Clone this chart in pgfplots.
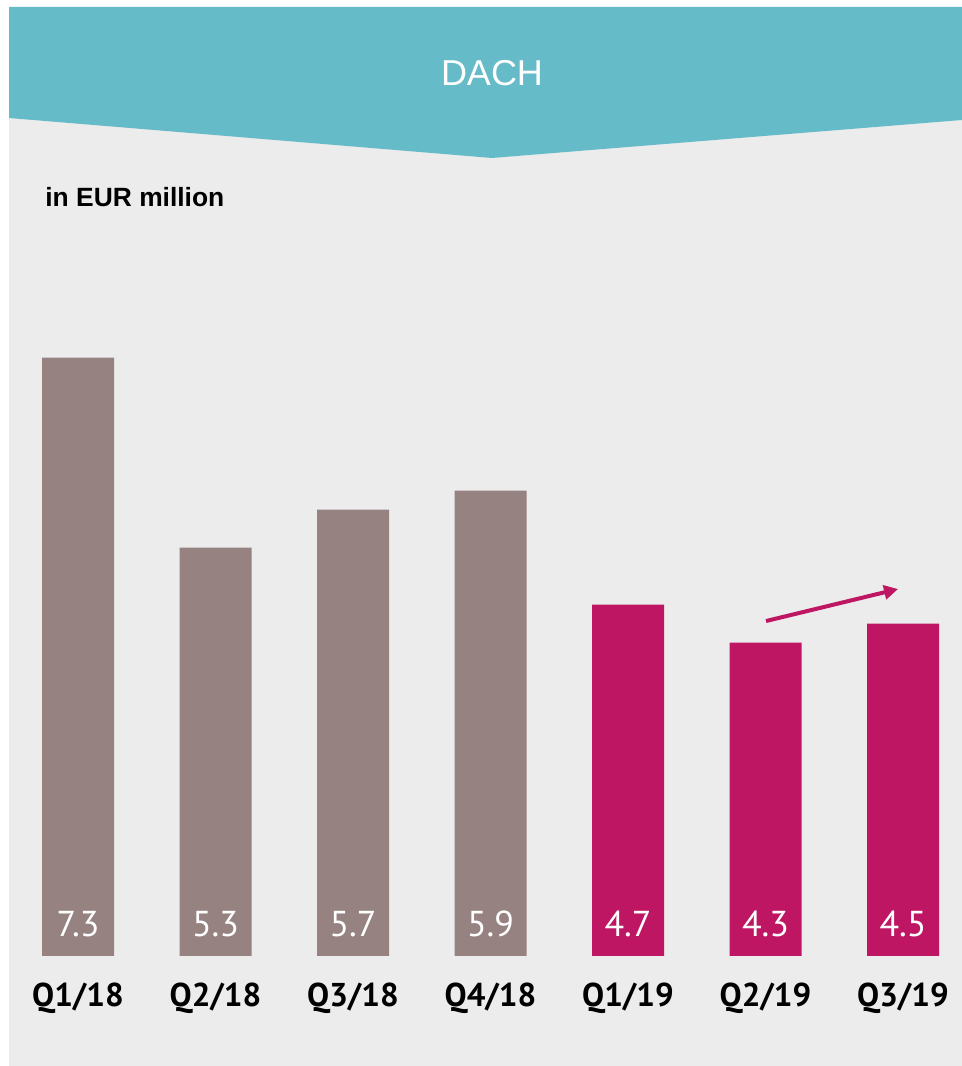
\documentclass[border=0pt]{standalone}
\usepackage{pgfplots}
\pgfplotsset{compat=1.18}
\usepackage{pgfplotstable}
\usepackage{fontspec}
\setmainfont{Liberation Sans}
\newfontfamily\ptsans{PT Sans}
\usetikzlibrary{arrows.meta}

\definecolor{panelgray}{HTML}{ECECEC}
\definecolor{headteal}{HTML}{66BBC9}
\definecolor{bargray}{HTML}{968281}
\definecolor{barpink}{HTML}{BE1662}

% quarterly values, in EUR million
\pgfplotstableread{
x v
0 7.3
1 5.3
2 5.7
3 5.9
}\prevyear
\pgfplotstableread{
x v
4 4.7
5 4.3
6 4.5
}\curyear

\begin{document}
\begin{tikzpicture}[x=0.5pt,y=0.5pt]
\useasboundingbox (0,0) rectangle (962,1066);
\fill[white] (0,0) rectangle (962,1066);
\fill[panelgray] (9,0) rectangle (962,1059);
% header band with the downward point
\fill[headteal] (9,1059) -- (962,1059) -- (962,946) -- (492,908) -- (9,948) -- cycle;
\node[text=white, font=\fontsize{18}{20}\selectfont] at (492,993) {DACH};
\node[anchor=base west, inner sep=0, font=\fontsize{13.2}{15}\selectfont\bfseries] at (45,859) {in EUR million};

\begin{axis}[
  at={(11.5pt,55pt)}, anchor=south west,
  scale only axis, width=467.5pt, height=332.5pt,
  xmin=-0.4, xmax=6.4, ymin=1, ymax=8,
  axis line style={draw=none}, major tick length=0pt,
  ytick=\empty,
  xtick={0,...,6},
  xticklabels={Q1/18,Q2/18,Q3/18,Q4/18,Q1/19,Q2/19,Q3/19},
  xticklabel style={font=\ptsans\bfseries\fontsize{16.5}{18}\selectfont, anchor=base, yshift=-25.5pt},
]
\addplot[ybar, bar width=36pt, bar shift=0pt, fill=bargray, draw=none] table[x=x, y=v] {\prevyear};
\addplot[ybar, bar width=36pt, bar shift=0pt, fill=barpink, draw=none] table[x=x, y=v] {\curyear};
% value labels sit at the foot of each bar
\addplot[draw=none, nodes near coords, point meta=explicit symbolic,
  nodes near coords style={font=\ptsans\fontsize{18}{20}\selectfont, text=white, anchor=base, yshift=9.5pt}]
  table[x=x, y expr=1, meta=v] {\prevyear};
\addplot[draw=none, nodes near coords, point meta=explicit symbolic,
  nodes near coords style={font=\ptsans\fontsize{18}{20}\selectfont, text=white, anchor=base, yshift=9.5pt}]
  table[x=x, y expr=1, meta=v] {\curyear};
\draw[barpink, line width=2pt, -{Triangle[length=7pt,width=7pt]}]
  (axis cs:5.004,4.526) -- (axis cs:5.964,4.863);
\end{axis}
\end{tikzpicture}
\end{document}
